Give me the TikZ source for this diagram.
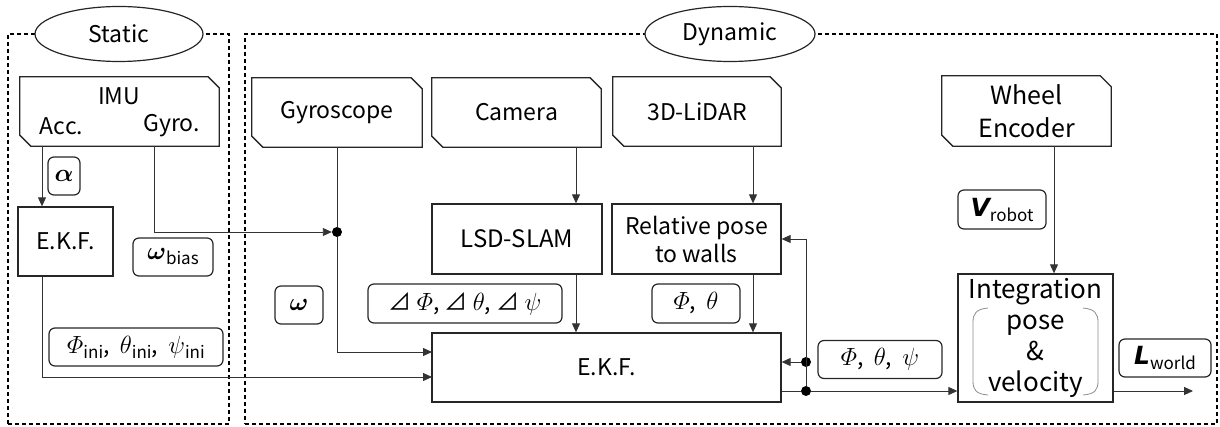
\documentclass[tikz,border=0pt]{standalone}
\usepackage[no-math]{fontspec}
\setmainfont{Noto Sans CJK JP}
\newfontfamily\symfont{DejaVu Sans}
\usepackage{amsmath,bm}
\usetikzlibrary{arrows.meta,shapes.geometric}
\newcommand\lowsub[1]{\raisebox{-5pt}{\fontsize{17}{17}\selectfont #1}}
\newcommand\rtri{{\fontsize{23}{23}\selectfont ⊿}}
\newcommand\chamfbox[1]{\draw[black!85, line width=1.3pt] (#1.north west) -- ([xshift=-11pt]#1.north east) -- ([yshift=-11pt]#1.north east) -- (#1.south east) -- ([xshift=11pt]#1.south west) -- ([yshift=11pt]#1.south west) -- cycle;}
\tikzset{
 box/.style={draw=black!85, line width=1.3pt, rectangle, inner sep=0pt, align=center},
 sensor/.style={rectangle, inner sep=0pt, align=center},
 lab/.style={draw=black!85, line width=1.2pt, rounded corners=6pt, rectangle, inner sep=0pt},
 conn/.style={draw=black!80, line width=0.9pt},
 arr/.style={conn, -{Triangle[length=9pt,width=8pt]}},
 frame/.style={draw=black, line width=1.1pt, dash pattern=on 4pt off 3pt, rectangle, inner sep=0pt},
 oval/.style={ellipse, draw=black!85, line width=1.2pt, fill=white, inner sep=0pt},
 jdot/.style={circle, fill=black, inner sep=0pt, minimum size=10pt},
 txt/.style={inner sep=0pt, font=\fontsize{23}{26}\selectfont},
}
\begin{document}
\begin{tikzpicture}[x=1pt,y=-1pt]
\useasboundingbox (0,0) rectangle (1220,427);
% frames
\node[frame, minimum width=221, minimum height=390] (static) at (118.5,229) {};
\node[frame, minimum width=972, minimum height=390] (dynamic) at (731,229) {};
\node[oval, minimum width=168, minimum height=55, font=\fontsize{23}{26}\selectfont] (ostat) at (119,34) {Static};
\node[oval, minimum width=170, minimum height=55, font=\fontsize{23}{26}\selectfont] (odyn) at (730,34) {Dynamic};
% sensors
\node[sensor, minimum width=199, minimum height=69] (imu) at (119.5,111.5) {};
\chamfbox{imu}
\node[txt] (imut) at (119,96) {IMU};
\node[txt] (acc) at (61.5,126) {Acc.};
\node[txt] (gyr) at (171.5,126) {Gyro.};
\node[sensor, minimum width=170, minimum height=69, font=\fontsize{23}{26}\selectfont] (gyro) at (337,112.5) {Gyroscope};
\chamfbox{gyro}
\node[sensor, minimum width=169, minimum height=69, font=\fontsize{23}{26}\selectfont] (cam) at (516.5,112.5) {Camera};
\chamfbox{cam}
\node[sensor, minimum width=168, minimum height=69, font=\fontsize{23}{26}\selectfont] (lidar) at (697,111.5) {3D-LiDAR};
\chamfbox{lidar}
\node[sensor, minimum width=169, minimum height=70, font=\fontsize{25}{33}\selectfont] (wheel) at (1026.5,111) {Wheel\\Encoder};
\chamfbox{wheel}
% processing boxes
\node[box, minimum width=95, minimum height=69, font=\fontsize{23}{26}\selectfont] (ekfs) at (65.5,241.5) {E.K.F.};
\node[box, minimum width=170, minimum height=70, font=\fontsize{24}{28}\selectfont] (lsd) at (517,239) {LSD-SLAM};
\node[box, minimum width=169, minimum height=70, font=\fontsize{23}{28}\selectfont] (rel) at (696.5,239) {Relative pose\\to walls};
\node[box, minimum width=349, minimum height=69, font=\fontsize{23}{26}\selectfont] (ekf) at (606.5,367.5) {E.K.F.};
\node[box, minimum width=155, minimum height=128, font=\fontsize{26}{31}\selectfont] (integ) at (1035.5,338) {Integration\\pose\\\&\\velocity};
% brackets
\draw[black!45, line width=0.8pt] (988,308) .. controls (976,309) and (973,314) .. (973,322) -- (973,381) .. controls (973,390) and (976,394) .. (988,395);
\draw[black!45, line width=0.8pt] (1083,308) .. controls (1095,309) and (1098,314) .. (1098,322) -- (1098,381) .. controls (1098,390) and (1095,394) .. (1083,395);
% labels
\node[lab, minimum width=32, minimum height=38, font=\fontsize{28}{28}\selectfont] (la) at (64,176) {$\bm{\alpha}$};
\node[lab, minimum width=80, minimum height=38] (lwb) at (173,257) {\fontsize{28}{28}\selectfont$\bm{\omega}$\lowsub{bias}};
\node[lab, minimum width=48, minimum height=38, font=\fontsize{28}{28}\selectfont] (lw) at (299,305) {$\bm{\omega}$};
\node[lab, minimum width=174, minimum height=38, font=\fontsize{23}{23}\selectfont] (lini) at (136,347) {$\varPhi$\lowsub{ini},\ \ $\theta$\lowsub{ini},\ \ $\psi$\lowsub{ini}};
\node[lab, minimum width=194, minimum height=39, font=\fontsize{23}{23}\selectfont] (ldel) at (465,303.5) {\rtri\ $\varPhi$,\ \rtri\ $\theta$,\ \rtri\ $\psi$};
\node[lab, minimum width=88, minimum height=39, font=\fontsize{23}{23}\selectfont] (lpt) at (696,303.5) {$\varPhi$,\ \ $\theta$};
\node[lab, minimum width=124, minimum height=38, font=\fontsize{23}{23}\selectfont] (lptp) at (880,359.5) {$\varPhi$,\ \ $\theta$,\ \ $\psi$};
\node[lab, minimum width=88, minimum height=39] (lv) at (1002,209.5) {{\symfont\bfseries\itshape\fontsize{25}{25}\selectfont V}\lowsub{robot}};
\node[lab, minimum width=92, minimum height=38] (ll) at (1165,358) {{\symfont\bfseries\itshape\fontsize{25}{25}\selectfont L}\lowsub{world}};
% coordinates and dots
\coordinate (accx) at (42,0);
\coordinate (gyx) at (154,0);
\coordinate (camx) at (576,0);
\coordinate (lidx) at (753,0);
\coordinate (whx) at (1054,0);
\coordinate (in1) at (432,352);
\coordinate (in2) at (432,377);
\coordinate (out) at (1193,391);
\node[jdot] (gdot) at (337,232) {};
\node[jdot] (d1) at (806,391) {};
\node[jdot] (d2) at (806,362) {};
% connectors
\draw[arr] (accx |- imu.south) -- (accx |- ekfs.north);
\draw[arr] (gyx |- imu.south) -- (gyx |- gdot) -- (gdot.west);
\draw[conn] (gyro.south) -- (gdot);
\draw[arr] (gdot) -- (gdot |- in1) -- (in1);
\draw[arr] (accx |- ekfs.south) -- (accx |- in2) -- (in2);
\draw[arr] (camx |- cam.south) -- (camx |- lsd.north);
\draw[arr] (camx |- lsd.south) -- (camx |- ekf.north);
\draw[arr] (lidx |- lidar.south) -- (lidx |- rel.north);
\draw[arr] (lidx |- rel.south) -- (lidx |- ekf.north);
\draw[conn] (ekf.east |- d1) -- (d1);
\draw[arr] (d1) -- (integ.west |- d1);
\draw[arr] (d1) -- (d1 |- rel.east) -- (rel.east);
\draw[arr] (d2) -- (ekf.east |- d2);
\draw[arr] (whx |- wheel.south) -- (whx |- integ.north);
\draw[arr] (integ.east |- out) -- (out);
\end{tikzpicture}
\end{document}
